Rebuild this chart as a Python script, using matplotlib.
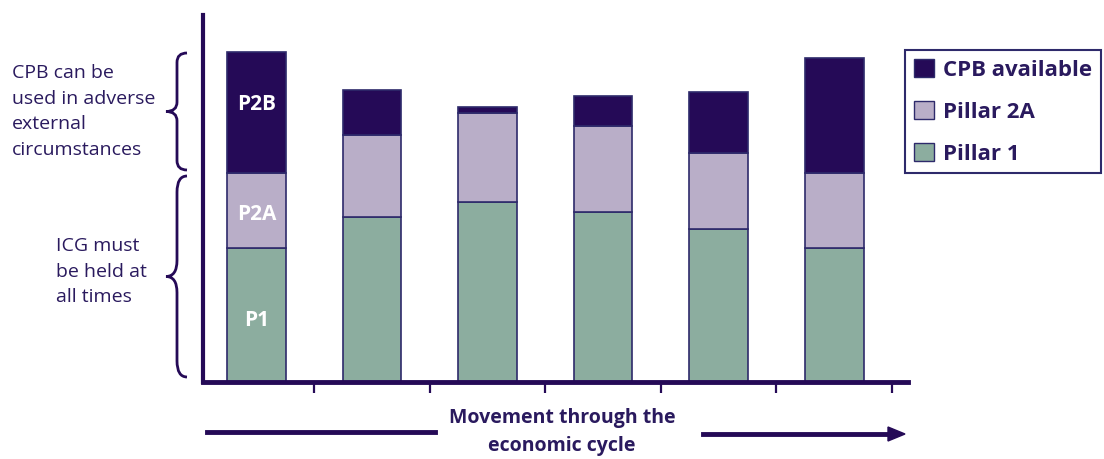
import matplotlib.pyplot as plt
import numpy as np
from matplotlib.patches import Patch, PathPatch
from matplotlib.path import Path
from matplotlib.transforms import blended_transform_factory

plt.rcParams['font.family'] = ['Liberation Sans Narrow', 'Open Sans', 'DejaVu Sans']

# data (arbitrary capital units)
stages = [0, 1, 2, 3, 4, 5]
pillar1 = [134, 165, 180, 170, 153, 134]
pillar2a = [75, 82, 89, 86, 76, 75]
cpb = [121, 45, 6, 30, 61, 115]

dark = '#250a57'
lilac = '#b9aec8'
green = '#8cad9f'
edge = '#2e2a6b'
txt = '#2a1a5e'

fig = plt.figure(figsize=(11.04, 4.59), dpi=100)
ax = fig.add_axes([203/1104, 1-382/459, 705/1104, 367/459])

x = np.array(stages)
p1 = np.array(pillar1)
p2 = np.array(pillar2a)
cb = np.array(cpb)
w = 0.51
ax.bar(x, p1, w, color=green, edgecolor=edge, linewidth=1.2, zorder=2)
ax.bar(x, p2, w, bottom=p1, color=lilac, edgecolor=edge, linewidth=1.2, zorder=2)
ax.bar(x, cb, w, bottom=p1 + p2, color=dark, edgecolor=edge, linewidth=1.2, zorder=2)

# labels in the first bar
lab = dict(color='white', fontsize=15, fontweight='bold', ha='center', va='center')
ax.text(x[0], p1[0] / 2 - 5, 'P1', **lab)
ax.text(x[0], p1[0] + p2[0] / 2 - 4, 'P2A', **lab)
ax.text(x[0], p1[0] + p2[0] + cb[0] / 2 + 8, 'P2B', **lab)

ax.set_xlim(-0.463, 5.64)
ax.set_ylim(0, 367)
ax.set_xticks(x + 0.5)
ax.set_xticklabels([])
ax.set_yticks([])
ax.tick_params(axis='x', length=8, width=1.6, color=dark, direction='out')
for s in ['top', 'right']:
    ax.spines[s].set_visible(False)
ax.spines['left'].set_linewidth(3)
ax.spines['bottom'].set_linewidth(3.5)
ax.spines['left'].set_color(dark)
ax.spines['bottom'].set_color(dark)


# curly braces on the left, y in data units
def brace(y0, y1, xl, xm, xr):
    ym = (y0 + y1) / 2
    r = (y1 - y0) * 0.08
    verts = [(xr, y1), (xm, y1), (xm, y1 - r),
             (xm, ym + r), (xm, ym), (xl, ym),
             (xm, ym), (xm, ym - r),
             (xm, y0 + r), (xm, y0), (xr, y0)]
    codes = [Path.MOVETO, Path.CURVE3, Path.CURVE3,
             Path.LINETO, Path.CURVE3, Path.CURVE3,
             Path.CURVE3, Path.CURVE3,
             Path.LINETO, Path.CURVE3, Path.CURVE3]
    tr = blended_transform_factory(fig.transFigure, ax.transData)
    pp = PathPatch(Path(verts, codes), fill=False, edgecolor=dark, linewidth=2,
                   transform=tr, clip_on=False)
    fig.add_artist(pp)

top1 = p1[0] + p2[0]
brace(top1 + 3, p1[0] + p2[0] + cb[0] - 1, 166/1104, 177/1104, 187/1104)
brace(5, top1 - 3, 166/1104, 177/1104, 187/1104)

fig.text(12/1104, 1-64/459, 'CPB can be\nused in adverse\nexternal\ncircumstances',
         fontsize=14, color=txt, ha='left', va='top', linespacing=1.55)
fig.text(56/1104, 1-237/459, 'ICG must\nbe held at\nall times',
         fontsize=14, color=txt, ha='left', va='top', linespacing=1.55)

# legend
handles = [Patch(facecolor=dark, edgecolor=edge),
           Patch(facecolor=lilac, edgecolor=edge),
           Patch(facecolor=green, edgecolor=edge)]
leg = fig.legend(handles, ['CPB available', 'Pillar 2A', 'Pillar 1'],
                 loc='upper left', bbox_to_anchor=(905/1104, 1-50/459),
                 borderaxespad=0, fancybox=False, framealpha=1,
                 prop={'size': 16, 'weight': 'bold'},
                 handlelength=0.9, handleheight=0.9, handletextpad=0.4,
                 labelspacing=0.9, borderpad=0.4)
leg.get_frame().set_edgecolor(edge)
leg.get_frame().set_linewidth(1.5)
for t in leg.get_texts():
    t.set_color(txt)

# movement arrow beneath
fig.add_artist(plt.Line2D([207/1104, 435/1104], [1-432/459, 1-432/459],
                          color=dark, linewidth=3.5))
fig.add_artist(plt.Line2D([703/1104, 890/1104], [1-434/459, 1-434/459],
                          color=dark, linewidth=3.5))
fig.patches.append(plt.Polygon([[888/1104, 1-427/459], [905/1104, 1-434/459],
                                [888/1104, 1-441/459]], closed=True,
                               transform=fig.transFigure, color=dark))
fig.text(562/1104, 1-432/459, 'Movement through the\neconomic cycle', fontsize=14,
         fontweight='bold', color=txt, ha='center', va='center', linespacing=1.5)

fig.savefig('out.png', dpi=100)
